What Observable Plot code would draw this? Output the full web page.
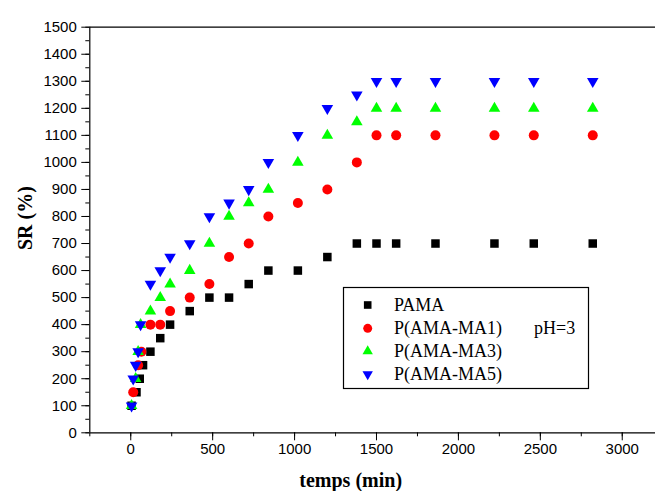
<!DOCTYPE html>
<html>
<head>
<meta charset="utf-8">
<script src="https://cdn.jsdelivr.net/npm/d3@7"></script>
<script src="https://cdn.jsdelivr.net/npm/@observablehq/plot@0.6"></script>
<style>
  html, body { margin: 0; padding: 0; background: white; }
  #chart { position: relative; width: 655px; height: 491px; overflow: hidden; }
  #chart svg { display: block; }
</style>
</head>
<body>
<div id="chart"></div>
<script>
// ---- data ----
const seriesNames = ["PAMA", "P(AMA-MA1)", "P(AMA-MA3)", "P(AMA-MA5)"];
const seriesColors = ["#000000", "#ff0000", "#00ff00", "#0000ff"];
const annotation = "pH=3";
const xTitle = "temps (min)";
const yTitle = "SR (%)";

const pamaTime = [5, 35, 55, 75, 120, 180, 240, 360, 480, 600, 720, 840, 1020, 1200, 1380, 1500, 1620, 1860, 2220, 2460, 2820];
const pamaSR   = [100, 150, 200, 250, 300, 350, 400, 450, 500, 500, 550, 600, 600, 650, 700, 700, 700, 700, 700, 700, 700];

const ma1Time = [15, 45, 65, 120, 180, 240, 360, 480, 600, 720, 840, 1020, 1200, 1380, 1500, 1620, 1860, 2220, 2460, 2820];
const ma1SR   = [150, 250, 300, 400, 400, 450, 500, 550, 650, 700, 800, 850, 900, 1000, 1100, 1100, 1100, 1100, 1100, 1100];

const ma3Time = [5, 30, 45, 60, 120, 180, 240, 360, 480, 600, 720, 840, 1020, 1200, 1380, 1500, 1620, 1860, 2220, 2460, 2820];
const ma3SR   = [100, 200, 300, 400, 450, 500, 550, 600, 700, 800, 850, 900, 1000, 1100, 1150, 1200, 1200, 1200, 1200, 1200, 1200];

const ma5Time = [5, 15, 30, 45, 60, 120, 180, 240, 360, 480, 600, 720, 840, 1020, 1200, 1380, 1500, 1620, 1860, 2220, 2460, 2820];
const ma5SR   = [100, 200, 250, 300, 400, 550, 600, 650, 700, 800, 850, 900, 1000, 1100, 1200, 1250, 1300, 1300, 1300, 1300, 1300, 1300];

const xMajorTicks = [0, 500, 1000, 1500, 2000, 2500, 3000];
const yMajorTicks = [0, 100, 200, 300, 400, 500, 600, 700, 800, 900, 1000, 1100, 1200, 1300, 1400, 1500];

// ---- build ----
const sqrt3 = Math.sqrt(3);
const triangleDown = {
  draw(context, size) {
    const y = -Math.sqrt(size / (sqrt3 * 3));
    context.moveTo(0, -y * 2);
    context.lineTo(-sqrt3 * y, y);
    context.lineTo(sqrt3 * y, y);
    context.closePath();
  }
};
const symbols = ["square", "circle", "triangle", triangleDown];
const radii = [4.8, 5, 4.3, 4.3];

const toRows = (t, v) => t.map((d, i) => ({t: d, sr: v[i]}));
const series = [
  toRows(pamaTime, pamaSR),
  toRows(ma1Time, ma1SR),
  toRows(ma3Time, ma3SR),
  toRows(ma5Time, ma5SR)
];

const xMinor = d3.range(-250, 3201, 250);
const yMinor = d3.range(0, 1501, 50);
const fmt = d => String(d);
const serif = "'Liberation Serif', 'Times New Roman', serif";

const plot = Plot.plot({
  width: 655,
  height: 491,
  marginLeft: 89.3,
  marginRight: 0,
  marginTop: 26.7,
  marginBottom: 58.7,
  x: {domain: [-250, 3203]},
  y: {domain: [0, 1500]},
  style: {fontFamily: "'Liberation Sans', Arial, sans-serif", fontSize: "15px", color: "black", background: "white"},
  marks: [
    Plot.axisX({ticks: xMinor, tickSize: 4, tickFormat: () => "", label: null}),
    Plot.axisX({ticks: xMajorTicks, tickSize: 8, tickPadding: 3, tickFormat: fmt, label: null}),
    Plot.axisY({ticks: yMinor, tickSize: 4, tickFormat: () => "", label: null}),
    Plot.axisY({ticks: yMajorTicks, tickSize: 8, tickPadding: 5, tickFormat: fmt, label: null}),
    Plot.ruleY([0, 1500], {stroke: "black", strokeWidth: 1.2}),
    Plot.ruleX([-250], {stroke: "black", strokeWidth: 1.2}),
    ...series.map((rows, i) => Plot.dot(rows, {
      x: "t", y: "sr", symbol: symbols[i], r: radii[i], fill: seriesColors[i], stroke: "none"
    })),
    Plot.text([xTitle], {frameAnchor: "bottom", dx: -22, dy: 54, text: d => d,
      fontFamily: serif, fontWeight: "bold", fontSize: 20}),
    Plot.text([yTitle], {frameAnchor: "left", dx: -64, dy: 20, rotate: -90, text: d => d,
      fontFamily: serif, fontWeight: "bold", fontSize: 20})
  ]
});

const chart = document.getElementById("chart");
chart.appendChild(plot);

// ---- legend overlay ----
const leg = d3.select(chart).append("svg")
  .attr("width", 655).attr("height", 491)
  .style("position", "absolute").style("left", "0px").style("top", "0px")
  .style("pointer-events", "none");

leg.append("rect")
  .attr("x", 343.5).attr("y", 287.5).attr("width", 245).attr("height", 101)
  .attr("fill", "white").attr("stroke", "black").attr("stroke-width", 1.2);

const d3Symbols = [d3.symbolSquare, d3.symbolCircle, d3.symbolTriangle, triangleDown];
const rowY = [305, 328.3, 351.3, 374.3];
seriesNames.forEach((name, i) => {
  leg.append("path")
    .attr("transform", `translate(367.7,${rowY[i]})`)
    .attr("d", d3.symbol(d3Symbols[i], Math.PI * radii[i] * radii[i] * 0.8)())
    .attr("fill", seriesColors[i]);
  leg.append("text")
    .attr("x", 394).attr("y", rowY[i] + 6)
    .attr("font-family", serif)
    .attr("font-size", 18)
    .text(name);
});
leg.append("text")
  .attr("x", 534).attr("y", rowY[1] + 6)
  .attr("font-family", serif)
  .attr("font-size", 18)
  .text(annotation);
</script>
</body>
</html>
